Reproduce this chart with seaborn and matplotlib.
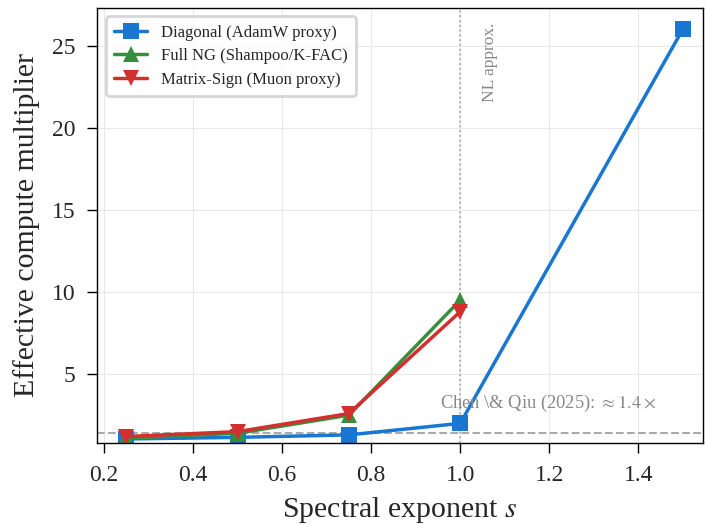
import matplotlib
matplotlib.use("Agg")
import matplotlib.pyplot as plt
import seaborn as sns
import pandas as pd

# Data
s_diag = [0.25, 0.5, 0.75, 1.0, 1.5]
v_diag = [1.05, 1.15, 1.3, 2.0, 26.0]
s_ng = [0.25, 0.5, 0.75, 1.0]
v_ng = [1.1, 1.4, 2.5, 9.5]
s_ms = [0.25, 0.5, 0.75, 1.0]
v_ms = [1.2, 1.5, 2.6, 8.8]
labels = ["Diagonal (AdamW proxy)", "Full NG (Shampoo/K-FAC)", "Matrix-Sign (Muon proxy)"]
ref_value = 1.4
xticks = [0.2, 0.4, 0.6, 0.8, 1.0, 1.2, 1.4]
yticks = [5, 10, 15, 20, 25]

sns.set_theme(style="whitegrid")
plt.rcParams["font.family"] = ["Liberation Serif", "DejaVu Serif"]
plt.rcParams["mathtext.fontset"] = "stix"

df = pd.concat([
    pd.DataFrame({"s": s_diag, "v": v_diag, "method": labels[0]}),
    pd.DataFrame({"s": s_ng, "v": v_ng, "method": labels[1]}),
    pd.DataFrame({"s": s_ms, "v": v_ms, "method": labels[2]}),
])

colors = {labels[0]: "#1976D2", labels[1]: "#388E3C", labels[2]: "#D32F2F"}
markers = {labels[0]: "s", labels[1]: "^", labels[2]: "v"}

fig = plt.figure(figsize=(7.05, 5.25), dpi=100)
ax = fig.add_axes([0.138, 0.156, 0.859, 0.829])

for lab in labels:
    sub = df[df["method"] == lab]
    sns.lineplot(data=sub, x="s", y="v", ax=ax, color=colors[lab], marker=markers[lab],
                 markersize=12, markeredgewidth=0, linewidth=2.5, label=lab)

ax.axhline(ref_value, color="#aaaaaa", linestyle="--", linewidth=1.5, zorder=1)
ax.axvline(1.0, color="#aaaaaa", linestyle=":", linewidth=1.3, zorder=1)
ax.text(0.955, 2.55, r"Chen \& Qiu (2025): $\approx 1.4\times$", color="#888888",
        fontsize=13.3, ha="left", va="bottom")
ax.text(1.067, 26.4, "NL approx.", color="#888888", fontsize=12.5, rotation=90,
        ha="center", va="top")

ax.set_xlim(0.185, 1.545)
ax.set_ylim(0.8, 27.3)
ax.set_xticks(xticks)
ax.set_yticks(yticks)
ax.tick_params(axis="both", labelsize=17, direction="out", length=7.5, width=1,
               color="black", bottom=True, left=True, pad=8)
ax.set_xlabel(r"Spectral exponent $s$", fontsize=21.5, labelpad=7)
ax.set_ylabel("Effective compute multiplier", fontsize=21.5, labelpad=8.5)
ax.grid(True, color="#e8e8e8", linewidth=0.8)
ax.set_facecolor("white")
for sp in ax.spines.values():
    sp.set_color("black")
    sp.set_linewidth(1.0)

leg = ax.legend(loc="upper left", fontsize=12, frameon=True, fancybox=True,
                borderpad=0.5, handlelength=2, labelspacing=0.45)
leg.get_frame().set_edgecolor("#cccccc")
leg.get_frame().set_linewidth(2)

fig.savefig("out.png", dpi=100)
